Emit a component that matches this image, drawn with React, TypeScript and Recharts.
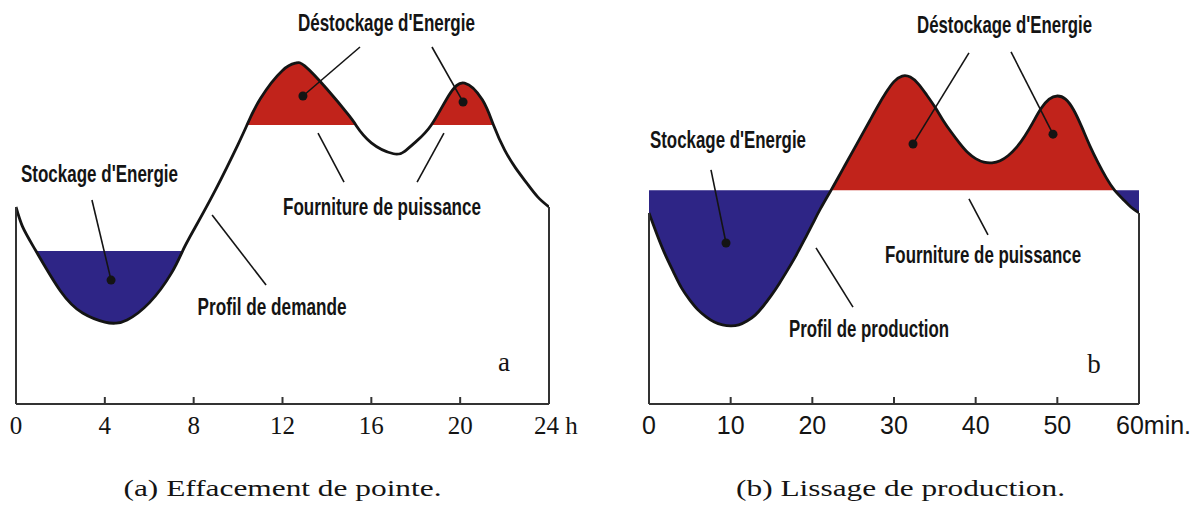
import React from 'react';
import { ComposedChart, Area, Line, XAxis, YAxis, ReferenceLine, ReferenceDot } from 'recharts';

// (a) peak shaving, hours
const hoursA = [0, 0.3, 0.9, 2, 3, 4, 4.5, 5, 6, 7, 7.5, 8, 9, 10, 10.4, 11, 12, 12.6, 13, 14, 15, 15.3, 16, 17, 17.5, 18, 18.7, 19.5, 20.2, 21, 21.5, 22, 22.5, 23, 23.5, 24];
const demandA = [56.3, 50.6, 43.7, 32.3, 26, 23.4, 23.1, 24, 28.9, 37.4, 43.7, 49.7, 61.4, 74.2, 79.7, 87.2, 95.3, 97.4, 96.6, 90, 82.4, 79.7, 74.6, 71.5, 72.2, 74.9, 79.7, 88.3, 91.7, 86.9, 79.7, 72.6, 67.4, 63.1, 59.1, 56.3];
const storeLevelA = 43.7;
const supplyLevelA = 79.7;
const storeSpansA = [[0.9, 7.5]];
const supplySpansA = [[10.4, 15.3], [18.7, 21.5]];
const ticksA = [0, 4, 8, 12, 16, 20, 24];
const tickLabelsA = ['0', '4', '8', '12', '16', '20', '24 h'];

// (b) production smoothing, minutes
const minutesB = [0, 1, 2, 3, 4, 5, 6, 7, 8, 9, 10, 11, 12, 13, 14, 15, 16, 17, 18, 19, 20, 21, 22.3, 23, 24, 25, 26, 27, 28, 29, 30, 31, 32, 33, 34, 35, 36, 37, 38, 39, 40, 41, 42, 43, 44, 45, 46, 47, 48, 49, 50, 51, 52, 53, 54, 55, 56, 57, 58, 59, 60];
const productionB = [54.6, 48.3, 42.6, 37.7, 33.1, 29.7, 26.9, 24.9, 23.4, 22.6, 22.3, 22.6, 23.7, 25.4, 28, 31.1, 34.6, 38.4, 42.4, 46.8, 51.3, 55.8, 61.1, 64, 68.2, 72.4, 76.6, 80.8, 85, 88.9, 92.1, 93.7, 93.4, 91.4, 88.3, 84.9, 81.1, 77.7, 74.6, 71.9, 70.1, 69.1, 68.9, 69.5, 71, 73.3, 76.5, 80.4, 84.4, 87.1, 88, 87.1, 84, 79.1, 73.7, 68.9, 64.6, 61.1, 58.6, 56.3, 54.6];
const levelB = 61.1;
const storeSpansB = [[0, 22.3], [57, 60]];
const supplySpansB = [[22.3, 57]];
const ticksB = [0, 10, 20, 30, 40, 50, 60];
const tickLabelsB = ['0', '10', '20', '30', '40', '50', '60min.'];

const RED = '#c1231b';
const BLUE = '#2e2586';
const INK = '#141414';
const AXIS = '#333';
const NOTE_FONT = '"Liberation Sans Narrow", "Liberation Sans", Arial, sans-serif';

const inSpans = (x: number, spans: number[][]) => spans.some(([a, b]) => x >= a - 1e-6 && x <= b + 1e-6);

const buildRows = (xs: number[], ys: number[], storeLvl: number, supplyLvl: number, storeSpans: number[][], supplySpans: number[][]) =>
  xs.map((x, i) => {
    const v = ys[i];
    return {
      x,
      v,
      blue: inSpans(x, storeSpans) ? [Math.min(v, storeLvl), storeLvl] : null,
      red: inSpans(x, supplySpans) ? [supplyLvl, Math.max(v, supplyLvl)] : null,
    };
  });

const rowsA = buildRows(hoursA, demandA, storeLevelA, supplyLevelA, storeSpansA, supplySpansA);
const rowsB = buildRows(minutesB, productionB, levelB, levelB, storeSpansB, supplySpansB);

type Note = { text: string; x: number; y: number; width: number; size?: number; serif?: boolean };
type Leader = { from: [number, number]; to: [number, number]; dot?: boolean };

const notesA: Note[] = [
  { text: "Déstockage d'Energie", x: 16.68, y: 106.7, width: 177 },
  { text: "Stockage d'Energie", x: 3.76, y: 63.4, width: 157 },
  { text: 'Fourniture de puissance', x: 16.48, y: 54, width: 198 },
  { text: 'Profil de demande', x: 11.53, y: 25.4, width: 149 },
  { text: 'a', x: 21.97, y: 9.4, width: 0, size: 27, serif: true },
  { text: '(a) Effacement de pointe.', x: 12.0, y: -26.4, width: 318, size: 24, serif: true },
];
const leadersA: Leader[] = [
  { from: [15.49, 102], to: [12.92, 88], dot: true },
  { from: [18.73, 102], to: [20.13, 86.3], dot: true },
  { from: [3.42, 58.3], to: [4.28, 35.4], dot: true },
  { from: [13.6, 77.4], to: [14.77, 63.4] },
  { from: [19.27, 77.4], to: [18.06, 63.4] },
  { from: [8.83, 54], to: [11.26, 34] },
];

const notesB: Note[] = [
  { text: "Déstockage d'Energie", x: 43.53, y: 106, width: 175 },
  { text: "Stockage d'Energie", x: 9.67, y: 73.1, width: 156 },
  { text: 'Fourniture de puissance', x: 40.9, y: 40.3, width: 196 },
  { text: 'Profil de production', x: 26.94, y: 19.1, width: 160 },
  { text: 'b', x: 54.49, y: 8.9, width: 0, size: 27, serif: true },
  { text: '(b) Lissage de production.', x: 30.8, y: -26.4, width: 329, size: 24, serif: true },
];
const leadersB: Leader[] = [
  { from: [39.18, 100.3], to: [32.33, 74.3], dot: true },
  { from: [44.33, 100.6], to: [49.47, 77.1], dot: true },
  { from: [7.59, 66.9], to: [9.43, 46], dot: true },
  { from: [39.18, 58.6], to: [41.51, 48.3] },
  { from: [20.45, 44.6], to: [24.98, 27.7] },
];

const noteContent = (n: Note) => (props: any) => {
  const vb = props.viewBox || {};
  const x = (vb.x ?? 0) + (vb.width ?? 0) / 2;
  const y = (vb.y ?? 0) + (vb.height ?? 0) / 2;
  const extra: any = n.width > 0 ? { textLength: n.width, lengthAdjust: 'spacingAndGlyphs' } : {};
  return (
    <text
      x={x}
      y={y}
      textAnchor="middle"
      fontFamily={n.serif ? '"Liberation Serif", "DejaVu Serif", serif' : NOTE_FONT}
      fontWeight={n.serif ? 400 : 700}
      fontSize={n.size ?? 24}
      fill={INK}
      {...extra}
    >
      {n.text}
    </text>
  );
};

const makeTick = (ticks: number[], labels: string[], serif: boolean) => (props: any) => {
  const { x, y, payload } = props;
  const i = ticks.indexOf(payload.value);
  const label = labels[i] ?? String(payload.value);
  const last = i === ticks.length - 1;
  const first = i === 0;
  return (
    <g>
      {!first && !last && <line x1={x} x2={x} y1={y} y2={y - 7} stroke={AXIS} strokeWidth={2} />}
      <text
        x={last ? x - (serif ? 15 : 23) : x}
        y={y + 30}
        textAnchor={last ? 'start' : 'middle'}
        fontFamily={serif ? '"Liberation Serif", serif' : '"Liberation Sans", Arial, sans-serif'}
        fontSize={25}
        fill={INK}
      >
        {label}
      </text>
    </g>
  );
};

type PanelProps = {
  rows: any[];
  xs: number[];
  ys: number[];
  ticks: number[];
  tickLabels: string[];
  serif: boolean;
  notes: Note[];
  leaders: Leader[];
  margin: { top: number; right: number; bottom: number; left: number };
};

const Panel: React.FC<PanelProps> = ({ rows, xs, ys, ticks, tickLabels, serif, notes, leaders, margin }) => {
  const x0 = xs[0];
  const x1 = xs[xs.length - 1];
  return (
    <ComposedChart width={600} height={510} data={rows} margin={margin}>
      <XAxis
        type="number"
        dataKey="x"
        domain={[x0, x1]}
        ticks={ticks}
        height={40}
        tickSize={0}
        tickMargin={0}
        tickLine={false}
        axisLine={{ stroke: AXIS, strokeWidth: 2 }}
        tick={makeTick(ticks, tickLabels, serif)}
        interval={0}
        allowDataOverflow
      />
      <YAxis type="number" domain={[0, 100]} hide allowDataOverflow />
      <Area dataKey="blue" type="natural" stroke="none" fill={BLUE} fillOpacity={1} connectNulls={false} isAnimationActive={false} dot={false} activeDot={false} />
      <Area dataKey="red" type="natural" stroke="none" fill={RED} fillOpacity={1} connectNulls={false} isAnimationActive={false} dot={false} activeDot={false} />
      <Line dataKey="v" type="natural" stroke={INK} strokeWidth={2.8} dot={false} activeDot={false} isAnimationActive={false} />
      <ReferenceLine segment={[{ x: x0, y: 0 }, { x: x0, y: ys[0] }]} stroke={AXIS} strokeWidth={2} ifOverflow="visible" />
      <ReferenceLine segment={[{ x: x1, y: 0 }, { x: x1, y: ys[ys.length - 1] }]} stroke={AXIS} strokeWidth={2} ifOverflow="visible" />
      {leaders.map((l, i) => (
        <ReferenceLine
          key={'l' + i}
          segment={[{ x: l.from[0], y: l.from[1] }, { x: l.to[0], y: l.to[1] }]}
          stroke={INK}
          strokeWidth={1.6}
          ifOverflow="visible"
        />
      ))}
      {leaders.filter(l => l.dot).map((l, i) => (
        <ReferenceDot key={'d' + i} x={l.to[0]} y={l.to[1]} r={4.5} fill={INK} stroke="none" ifOverflow="visible" />
      ))}
      {notes.map((n, i) => (
        <ReferenceDot key={'n' + i} x={n.x} y={n.y} r={0} fill="none" stroke="none" ifOverflow="visible" label={noteContent(n)} />
      ))}
    </ComposedChart>
  );
};

export default function App() {
  return (
    <div style={{ position: 'absolute', left: 0, top: 0, width: 1204, height: 510, background: '#fff', overflow: 'hidden' }}>
      <div style={{ position: 'absolute', left: 0, top: 0 }}>
        <Panel
          rows={rowsA}
          xs={hoursA}
          ys={demandA}
          ticks={ticksA}
          tickLabels={tickLabelsA}
          serif={true}
          notes={notesA}
          leaders={leadersA}
          margin={{ top: 54, right: 51, bottom: 66, left: 16 }}
        />
      </div>
      <div style={{ position: 'absolute', left: 600, top: 0 }}>
        <Panel
          rows={rowsB}
          xs={minutesB}
          ys={productionB}
          ticks={ticksB}
          tickLabels={tickLabelsB}
          serif={false}
          notes={notesB}
          leaders={leadersB}
          margin={{ top: 54, right: 61, bottom: 66, left: 49 }}
        />
      </div>
    </div>
  );
}
